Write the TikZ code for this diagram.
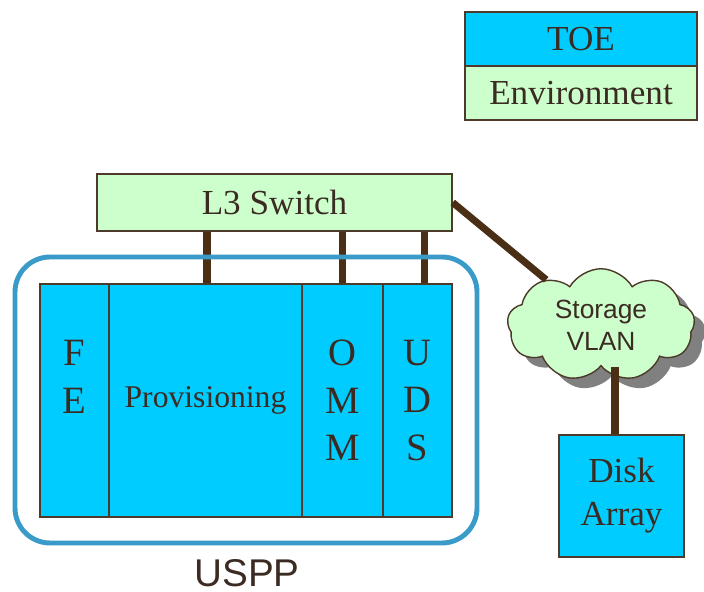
\documentclass[tikz,border=0pt]{standalone}
\usepackage{fontspec}
\setmainfont{Liberation Serif}
\setsansfont{Liberation Sans}
\usetikzlibrary{shapes.symbols,shadows}
\definecolor{boxcyan}{HTML}{00CCFF}
\definecolor{boxgreen}{HTML}{CCFFCC}
\definecolor{edge}{HTML}{4D3A2A}
\definecolor{wire}{HTML}{4A2E15}
\definecolor{ring}{HTML}{3A9BC9}
\definecolor{ink}{HTML}{3B2B22}
\begin{document}
\begin{tikzpicture}[
    box/.style={draw=edge,line width=.8pt,inner sep=0pt,text=ink,align=center,
      font=\fontsize{20}{24.5}\selectfont},
    blade/.style={box,fill=boxcyan,minimum height=4.66cm,font=\fontsize{22}{27}\selectfont},
    link/.style={wire,line width=4pt}]
  \useasboundingbox (0,0) rectangle (14.08,-11.84);
  % legend
  \node[box,fill=boxcyan,minimum width=4.64cm,minimum height=1.08cm] (toe) at (11.62,-.78) {TOE};
  \node[box,fill=boxgreen,minimum width=4.64cm,minimum height=1.08cm] (env) at (11.62,-1.86) {Environment};
  \node[box,fill=boxgreen,minimum width=7.1cm,minimum height=1.14cm] (switch) at (5.49,-4.05) {L3 Switch};
  % uspp blades
  \node[blade,minimum width=1.38cm] (fe) at (1.49,-8.01) {F\\E\\~};
  \node[blade,minimum width=3.86cm,font=\fontsize{18}{22}\selectfont] (prov) at (4.11,-8.01) {Provisioning};
  \node[blade,minimum width=1.62cm] (omm) at (6.85,-8.01) {O\\M\\M};
  \node[blade,minimum width=1.38cm] (uds) at (8.35,-8.01) {U\\D\\S};
  \node[box,fill=boxcyan,minimum width=2.5cm,minimum height=2.44cm] (disk) at (12.43,-9.92) {Disk\\Array};
  \node[cloud,cloud puffs=9,cloud puff arc=120,cloud ignores aspect,draw=edge,line width=.8pt,
    fill=boxgreen,minimum width=3.75cm,minimum height=2.25cm,inner sep=0pt,text=ink,align=center,
    font=\sffamily\fontsize{15}{18}\selectfont,
    drop shadow={fill=gray,opacity=1,shadow xshift=.22cm,shadow yshift=-.2cm}]
    (vlan) at (12.02,-6.5) {Storage\\VLAN};
  \draw[link] ([xshift=.03cm]prov.north) -- ([xshift=.03cm]prov.north |- switch.south);
  \draw[link] (omm.north) -- (omm.north |- switch.south);
  \draw[link] ([xshift=.14cm]uds.north) -- ([xshift=.14cm]uds.north |- switch.south);
  \draw[link] (switch.east) -- (vlan);
  \draw[link] ([xshift=-.13cm]disk.north) -- ([xshift=-.13cm]disk.north |- vlan.south);
  \draw[ring,line width=2.8pt,rounded corners=.7cm] (.3,-5.14) rectangle (9.54,-10.86);
  \node[anchor=base,inner sep=0pt,text=ink,font=\sffamily\fontsize{22}{26}\selectfont] (uspp) at (4.94,-11.72) {USPP};
\end{tikzpicture}
\end{document}
